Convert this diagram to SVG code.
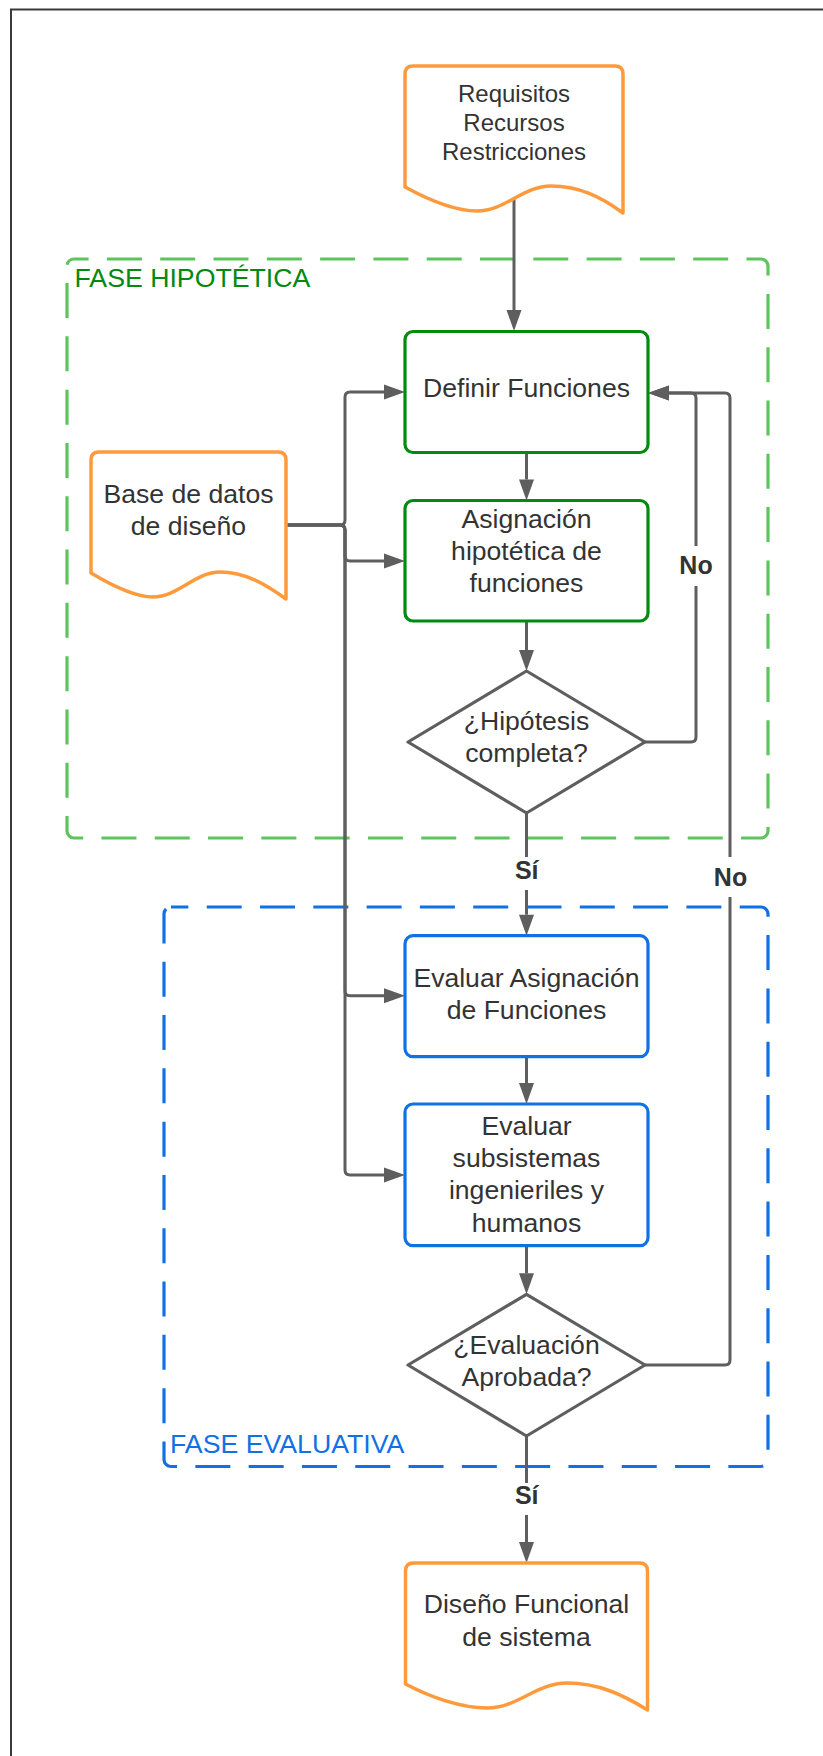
<svg xmlns="http://www.w3.org/2000/svg" width="823" height="1756" viewBox="0 0 823 1756">
  <defs>
    <marker id="arrow" markerUnits="userSpaceOnUse" markerWidth="21" markerHeight="15" refX="0" refY="7.5" orient="auto" overflow="visible">
      <path d="M0,0 L21,7.5 L0,15 Z" fill="#5e5e5e"/>
    </marker>
    <style>
      .frame { fill: none; stroke: #3a3a3a; stroke-width: 2; }
      .zone-green { fill: none; stroke: #5bc55b; stroke-width: 3.2; stroke-dasharray: 35 18.3; stroke-dashoffset: 20.4; }
      .zone-blue { fill: none; stroke: #1071e5; stroke-width: 3.2; stroke-dasharray: 35 18.3; stroke-dashoffset: 17.6; }
      .zone-label { font-family: "Liberation Sans", Arial, sans-serif; font-size: 26.7px; }
      .box-green { fill: #ffffff; stroke: #008a0e; stroke-width: 3.2; }
      .box-blue { fill: #ffffff; stroke: #1071e5; stroke-width: 3.2; }
      .doc { fill: #ffffff; stroke: #ff9a3c; stroke-width: 3.5; stroke-linejoin: round; }
      .decision { fill: #ffffff; stroke: #5e5e5e; stroke-width: 3.2; stroke-linejoin: round; }
      .t { font-family: "Liberation Sans", Arial, sans-serif; font-size: 26.6px; fill: #333333; text-anchor: middle; }
      .t-small { font-size: 24px; }
      .edge { fill: none; stroke: #5e5e5e; stroke-width: 3; marker-end: url(#arrow); }
      .edge-label { font-family: "Liberation Sans", Arial, sans-serif; font-size: 25px; font-weight: bold; fill: #333333; text-anchor: middle; }
    </style>
  </defs>

  <rect width="823" height="1756" fill="#ffffff"/>

  <!-- page frame: only the top and left edges fall inside the page -->
  <path class="frame" d="M11,1760 V9.5 H830"/>

  <!-- phase containers -->
  <g id="fase-hipotetica">
    <rect class="zone-green" x="67" y="259" width="701" height="579" rx="7"/>
    <text class="zone-label" x="74.5" y="286.7" fill="#008a0e">FASE HIPOTÉTICA</text>
  </g>
  <g id="fase-evaluativa">
    <rect class="zone-blue" x="164" y="907" width="604" height="559.5" rx="7"/>
    <text class="zone-label" x="170" y="1453.3" fill="#1071e5">FASE EVALUATIVA</text>
  </g>

  <!-- connectors -->
  <g id="connectors">
    <path class="edge" d="M514,199 V310"/>
    <path class="edge" d="M526.5,452.5 V479.5"/>
    <path class="edge" d="M526.5,621 V650"/>
    <path class="edge" d="M526.5,813 V914.7"/>
    <path class="edge" d="M526.5,1057 V1083"/>
    <path class="edge" d="M526.5,1246 V1273.3"/>
    <path class="edge" d="M526.5,1436 V1542"/>
    <!-- "No" loops back to Definir Funciones -->
    <path class="edge" d="M645,742 H691 Q696,742 696,737 V398 Q696,393 691,393 H669"/>
    <path class="edge" d="M645,1365 H725 Q730,1365 730,1360 V398 Q730,393 725,393 H669"/>
    <!-- design database feeds -->
    <path class="edge" d="M286,525 H340 Q345,525 345,520 V397 Q345,392 350,392 H384"/>
    <path class="edge" d="M286,525 H340 Q345,525 345,530 V556 Q345,561 350,561 H384"/>
    <path class="edge" d="M286,525 H340 Q345,525 345,530 V990.7 Q345,995.7 350,995.7 H384"/>
    <path class="edge" d="M286,525 H340 Q345,525 345,530 V1170 Q345,1175 350,1175 H384"/>

    <!-- branch labels -->
    <g id="label-no-1">
      <rect x="677" y="546" width="38" height="40" fill="#ffffff"/>
      <text class="edge-label" x="696" y="574">No</text>
    </g>
    <g id="label-no-2">
      <rect x="711" y="857" width="38" height="40" fill="#ffffff"/>
      <text class="edge-label" x="730.5" y="886">No</text>
    </g>
    <g id="label-si-1">
      <rect x="510" y="857" width="33" height="33" fill="#ffffff"/>
      <text class="edge-label" x="526.7" y="879">Sí</text>
    </g>
    <g id="label-si-2">
      <rect x="510" y="1483" width="33" height="32" fill="#ffffff"/>
      <text class="edge-label" x="526.7" y="1504">Sí</text>
    </g>
  </g>

  <!-- nodes -->
  <g id="requisitos">
    <path class="doc" d="M405,74 V187 C427,199 455,211 477,211 C505,211 523,186 551,186 C578,186 600,196 623,213 V74 Q623,66 615,66 H413 Q405,66 405,74 Z"/>
    <text class="t t-small" x="514" y="101.7">Requisitos</text>
    <text class="t t-small" x="514" y="130.7">Recursos</text>
    <text class="t t-small" x="514" y="159.5">Restricciones</text>
  </g>

  <g id="base-datos">
    <path class="doc" d="M91,460 V573 C111,585 136,597 153,597 C178,597 195,572 220,572 C245,572 265,584 286,599 V460 Q286,452 278,452 H99 Q91,452 91,460 Z"/>
    <text class="t" x="188.5" y="503">Base de datos</text>
    <text class="t" x="188.5" y="535">de diseño</text>
  </g>

  <g id="definir-funciones">
    <rect class="box-green" x="405" y="331.5" width="243" height="121" rx="8"/>
    <text class="t" x="526.5" y="396.5">Definir Funciones</text>
  </g>

  <g id="asignacion-hipotetica">
    <rect class="box-green" x="405" y="500.5" width="243" height="120.5" rx="8"/>
    <text class="t" x="526.5" y="528">Asignación</text>
    <text class="t" x="526.5" y="560">hipotética de</text>
    <text class="t" x="526.5" y="592">funciones</text>
  </g>

  <g id="hipotesis-completa">
    <polygon class="decision" points="526.5,671 645,742 526.5,813 408,742"/>
    <text class="t" x="526.5" y="729.7">¿Hipótesis</text>
    <text class="t" x="526.5" y="762">completa?</text>
  </g>

  <g id="evaluar-asignacion">
    <rect class="box-blue" x="405" y="935.7" width="243" height="121" rx="8"/>
    <text class="t" x="526.5" y="986.7">Evaluar Asignación</text>
    <text class="t" x="526.5" y="1019">de Funciones</text>
  </g>

  <g id="evaluar-subsistemas">
    <rect class="box-blue" x="405" y="1104" width="243" height="141.7" rx="8"/>
    <text class="t" x="526.5" y="1135">Evaluar</text>
    <text class="t" x="526.5" y="1167.3">subsistemas</text>
    <text class="t" x="526.5" y="1199">ingenieriles y</text>
    <text class="t" x="526.5" y="1231.5">humanos</text>
  </g>

  <g id="evaluacion-aprobada">
    <polygon class="decision" points="526.5,1294.3 645,1365 526.5,1436 408,1365"/>
    <text class="t" x="526.5" y="1354">¿Evaluación</text>
    <text class="t" x="526.5" y="1386">Aprobada?</text>
  </g>

  <g id="diseno-funcional">
    <path class="doc" d="M405.5,1571 V1684 C430,1697 461,1708 487,1708 C518,1708 536,1683 567,1683 C597,1683 622,1694 647.5,1710 V1571 Q647.5,1563 639.5,1563 H413.5 Q405.5,1563 405.5,1571 Z"/>
    <text class="t" x="526.5" y="1613.3">Diseño Funcional</text>
    <text class="t" x="526.5" y="1646">de sistema</text>
  </g>
</svg>
